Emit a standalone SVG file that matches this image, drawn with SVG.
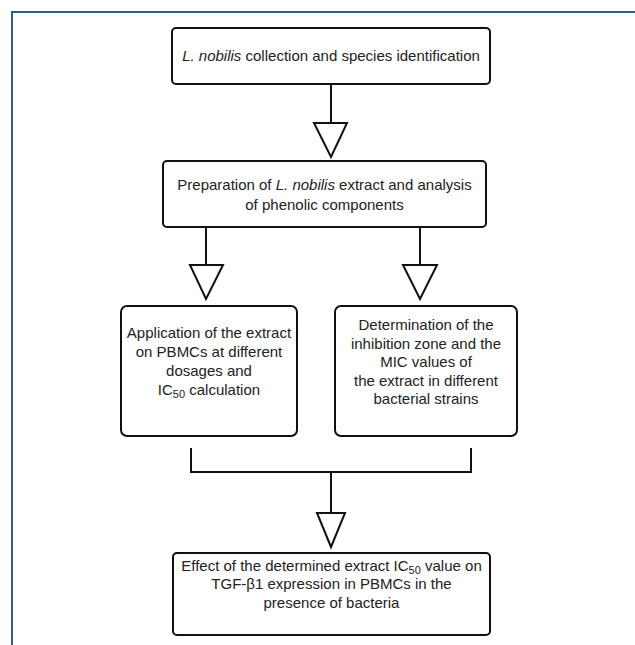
<svg xmlns="http://www.w3.org/2000/svg" width="635" height="645" viewBox="0 0 635 645">
<style>
.box{fill:#fff;stroke:#111;stroke-width:2}
.t{font-family:"Liberation Sans",Arial,sans-serif;font-size:15px;fill:#222;text-anchor:middle}
.i{font-style:italic}
.c{fill:none;stroke:#111;stroke-width:2}
.h{fill:#fff;stroke:#111;stroke-width:2;stroke-linejoin:miter}
.s{font-size:11px}
</style>
<rect width="635" height="645" fill="#fff"/>
<path d="M12 645 V12 H635" fill="none" stroke="#2f5d8e" stroke-width="2"/>
<g id="connectors">
<path class="c" d="M331 85 V123"/>
<polygon class="h" points="314,123 347,123 331,157"/>
<path class="c" d="M206 228 V265"/>
<polygon class="h" points="190,265 223,265 206,299"/>
<path class="c" d="M420 228 V265"/>
<polygon class="h" points="403,265 437,265 420,299"/>
<path class="c" d="M191 448 V472 H471 V448"/>
<path class="c" d="M331 472 V513"/>
<polygon class="h" points="317,513 345,513 331,547"/>
</g>
<g id="n1">
<rect class="box" x="172" y="28" width="318" height="56" rx="4"/>
<text class="t" x="331" y="61"><tspan class="i">L. nobilis</tspan> collection and species identification</text>
</g>
<g id="n2">
<rect class="box" x="163" y="161" width="323" height="66" rx="4"/>
<text class="t" x="324.5" y="190">Preparation of <tspan class="i">L. nobilis</tspan> extract and analysis</text>
<text class="t" x="324.5" y="210">of phenolic components</text>
</g>
<g id="n3">
<rect class="box" x="121" y="306" width="176" height="130" rx="6"/>
<text class="t" x="209" y="338">Application of the extract</text>
<text class="t" x="209" y="357">on PBMCs at different</text>
<text class="t" x="209" y="376">dosages and</text>
<text class="t" x="209" y="395">IC<tspan class="s" dy="3">50</tspan><tspan dy="-3"> calculation</tspan></text>
</g>
<g id="n4">
<rect class="box" x="335" y="306" width="182" height="130" rx="6"/>
<text class="t" x="426" y="330">Determination of the</text>
<text class="t" x="426" y="349">inhibition zone and the</text>
<text class="t" x="426" y="367">MIC values of</text>
<text class="t" x="426" y="386">the extract in different</text>
<text class="t" x="426" y="404">bacterial strains</text>
</g>
<g id="n5">
<rect class="box" x="173" y="553" width="317" height="82" rx="4"/>
<text class="t" x="331.5" y="571">Effect of the determined extract IC<tspan class="s" dy="3">50</tspan><tspan dy="-3"> value on</tspan></text>
<text class="t" x="331.5" y="589">TGF-β1 expression in PBMCs in the</text>
<text class="t" x="331.5" y="608">presence of bacteria</text>
</g>
</svg>
